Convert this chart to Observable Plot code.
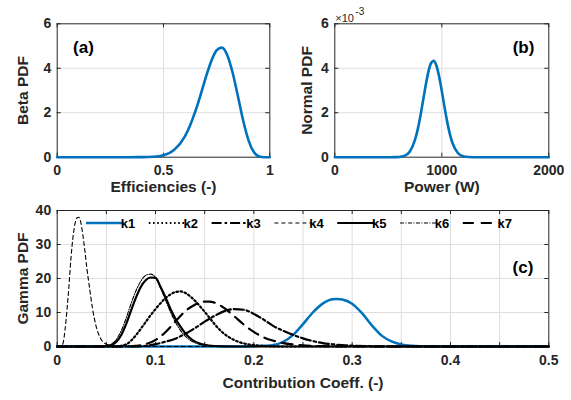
<!DOCTYPE html>
<html>
<head>
<meta charset="utf-8">
<script src="https://cdn.jsdelivr.net/npm/d3@7"></script>
<script src="https://cdn.jsdelivr.net/npm/@observablehq/plot@0.6"></script>
<style>
  body { margin: 0; background: #fff; }
  #root { position: relative; width: 571px; height: 400px; overflow: hidden; background: #fff; }
  .panel { position: absolute; }
</style>
</head>
<body>
<div id="root"></div>
<script>
// ---------- Panel (a): Beta PDF vs efficiency ----------
const effX    = [0, 0.1, 0.2, 0.3, 0.35, 0.4, 0.45, 0.5, 0.55, 0.6, 0.625, 0.65, 0.675, 0.7, 0.725, 0.75, 0.775, 0.8, 0.825, 0.85, 0.875, 0.9, 0.925, 0.95, 0.975, 1];
const betaPdf = [0, 0, 0, 0, 0.0005, 0.003, 0.02, 0.09, 0.33, 0.93, 1.43, 2.07, 2.82, 3.62, 4.33, 4.81, 4.93, 4.59, 3.81, 2.74, 1.64, 0.76, 0.23, 0.035, 0.001, 0];

// ---------- Panel (b): Normal PDF vs power (values in units of 1e-3) ----------
const powerX    = [0, 500, 550, 600, 650, 700, 750, 775, 800, 825, 850, 875, 900, 925, 950, 975, 1000, 1025, 1050, 1075, 1100, 1150, 1200, 1250, 1300, 1350, 2000];
const normalPdf = [0, 0.0001, 0.0013, 0.010, 0.058, 0.249, 0.787, 1.253, 1.854, 2.547, 3.249, 3.85, 4.238, 4.333, 4.115, 3.63, 2.974, 2.263, 1.600, 1.050, 0.640, 0.191, 0.042, 0.007, 0.001, 0, 0];

// ---------- Panel (c): Gamma PDFs of contribution coefficients ----------
const seriesNames = ["k1", "k2", "k3", "k4", "k5", "k6", "k7"];
const k1X = [0, 0.18, 0.2, 0.21, 0.22, 0.23, 0.24, 0.25, 0.26, 0.27, 0.28, 0.285, 0.29, 0.3, 0.31, 0.32, 0.33, 0.34, 0.35, 0.36, 0.37, 0.39, 0.5];
const k1Y = [0, 0, 0.05, 0.2, 0.45, 1.4, 3.4, 6.6, 10.0, 12.6, 13.9, 14.0, 13.8, 12.6, 9.8, 6.2, 3.2, 1.5, 0.6, 0.2, 0.07, 0, 0];
const k2X = [0, 0.06, 0.065, 0.07, 0.075, 0.08, 0.085, 0.09, 0.095, 0.1, 0.105, 0.11, 0.115, 0.12, 0.125, 0.13, 0.135, 0.14, 0.145, 0.15, 0.155, 0.16, 0.165, 0.17, 0.175, 0.18, 0.185, 0.19, 0.2, 0.21, 0.23, 0.5];
const k2Y = [0, 0, 0.2, 0.6, 1.7, 3.3, 5.2, 7.2, 9.2, 11.0, 12.7, 14.2, 15.3, 16.0, 16.2, 15.8, 14.8, 13.5, 11.9, 10.2, 8.4, 6.6, 5.0, 3.7, 2.7, 1.9, 1.3, 0.9, 0.4, 0.15, 0, 0];
const k3X = [0, 0.08, 0.09, 0.1, 0.11, 0.12, 0.13, 0.14, 0.15, 0.16, 0.17, 0.18, 0.19, 0.2, 0.21, 0.22, 0.23, 0.24, 0.25, 0.26, 0.27, 0.28, 0.29, 0.3, 0.32, 0.35, 0.5];
const k3Y = [0, 0, 0.2, 0.7, 1.4, 2.3, 3.7, 5.4, 7.3, 9.0, 10.4, 11.0, 10.8, 9.6, 7.9, 6.0, 4.6, 3.4, 2.4, 1.6, 1.0, 0.65, 0.4, 0.25, 0.07, 0, 0];
const k4X = [0, 0.004, 0.006, 0.008, 0.01, 0.012, 0.014, 0.016, 0.018, 0.02, 0.022, 0.024, 0.026, 0.028, 0.03, 0.033, 0.036, 0.04, 0.044, 0.048, 0.055, 0.065, 0.08, 0.5];
const k4Y = [0, 0, 1, 5, 11, 18, 26, 32, 36, 37.8, 38, 36.5, 33, 28.5, 23.5, 17, 11, 5.5, 2.4, 1.0, 0.3, 0.05, 0, 0];
const k5X = [0, 0.04, 0.05, 0.055, 0.06, 0.065, 0.07, 0.075, 0.08, 0.085, 0.09, 0.095, 0.1, 0.105, 0.11, 0.115, 0.12, 0.125, 0.13, 0.135, 0.14, 0.145, 0.15, 0.16, 0.17, 0.19, 0.5];
const k5Y = [0, 0, 0.1, 0.4, 1.3, 3.3, 6.5, 10.5, 14.3, 17.5, 19.5, 20.3, 20.2, 17.6, 14.6, 11.2, 8.3, 6.0, 4.0, 2.5, 1.5, 0.9, 0.5, 0.15, 0.05, 0, 0];
const k6X = [0, 0.04, 0.05, 0.055, 0.06, 0.065, 0.07, 0.075, 0.08, 0.085, 0.09, 0.095, 0.1, 0.105, 0.11, 0.115, 0.12, 0.125, 0.13, 0.135, 0.14, 0.145, 0.15, 0.16, 0.17, 0.19, 0.5];
const k6Y = [0, 0, 0.2, 0.7, 2.0, 4.5, 8.2, 12.5, 16.3, 19.2, 20.9, 21.3, 20.3, 17.3, 13.8, 10.3, 7.3, 4.9, 3.1, 1.9, 1.1, 0.6, 0.35, 0.1, 0.03, 0, 0];
const k7X = [0, 0.07, 0.08, 0.09, 0.1, 0.11, 0.12, 0.13, 0.14, 0.15, 0.155, 0.16, 0.17, 0.18, 0.19, 0.2, 0.21, 0.22, 0.23, 0.24, 0.25, 0.27, 0.3, 0.5];
const k7Y = [0, 0, 0.2, 0.7, 1.9, 4.2, 7.3, 10.3, 12.3, 13.2, 13.2, 12.9, 11.3, 8.9, 6.4, 4.3, 2.7, 1.7, 1.0, 0.6, 0.35, 0.1, 0, 0];

// tick values
const aXTicks = [0, 0.5, 1], aYTicks = [0, 2, 4, 6];
const bXTicks = [0, 1000, 2000], bYTicks = [0, 2, 4, 6];
const cXTicks = [0, 0.05, 0.1, 0.15, 0.2, 0.25, 0.3, 0.35, 0.4, 0.45, 0.5];
const cXLabels = [0, 0.1, 0.2, 0.3, 0.4, 0.5];
const cYTicks = [0, 10, 20, 30, 40];

// ---------- styling ----------
const FONT = '"Liberation Sans", Arial, Helvetica, sans-serif';
const INK = "#262626";
const GRID = "#dedede";
const BLUE = "#0072BD";

const zip = (xs, ys) => xs.map((x, i) => ({x, y: ys[i]}));

const cStyles = [
  {stroke: BLUE, strokeWidth: 2.5, dash: null},
  {stroke: "#000", strokeWidth: 2.2, dash: "1.6,2.6"},
  {stroke: "#000", strokeWidth: 2.2, dash: "10,3,2.5,3"},
  {stroke: "#000", strokeWidth: 1.1, dash: "4,3"},
  {stroke: "#000", strokeWidth: 2.2, dash: null},
  {stroke: "#000", strokeWidth: 1.1, dash: "4,1.5,1,1.5"},
  {stroke: "#000", strokeWidth: 2.2, dash: "11,7"}
];
const cData = [zip(k1X, k1Y), zip(k2X, k2Y), zip(k3X, k3Y), zip(k4X, k4Y), zip(k5X, k5Y), zip(k6X, k6Y), zip(k7X, k7Y)];

function panel(cfg) {
  const W = cfg.width - cfg.ml - cfg.mr;
  const H = cfg.height - cfg.mt - cfg.mb;
  const tickOpts = {stroke: INK, strokeWidth: 1};
  const marks = [
    Plot.gridX(cfg.xGrid, {stroke: GRID, strokeOpacity: 1, strokeWidth: 1}),
    Plot.gridY(cfg.yGrid, {stroke: GRID, strokeOpacity: 1, strokeWidth: 1}),
    Plot.frame({stroke: INK, strokeWidth: 1}),
    Plot.tickX(cfg.xTicks, {x: d => d, insetTop: H - 4, ...tickOpts}),
    Plot.tickX(cfg.xTicks, {x: d => d, insetBottom: H - 4, ...tickOpts}),
    Plot.tickY(cfg.yTicks, {y: d => d, insetRight: W - 4, ...tickOpts}),
    Plot.tickY(cfg.yTicks, {y: d => d, insetLeft: W - 4, ...tickOpts}),
    Plot.axisX(cfg.xLabels, {tickSize: 0, tickPadding: cfg.xPad, tickFormat: d => String(d), label: null, fontSize: 14, fill: INK}),
    Plot.axisY(cfg.yTicks, {tickSize: 0, tickPadding: 6, tickFormat: d => String(d), label: null, fontSize: 14, fill: INK}),
    ...cfg.series.map(s => Plot.line(s.data, {
      x: "x", y: "y", stroke: s.stroke, strokeWidth: s.strokeWidth,
      strokeDasharray: s.dash || undefined, curve: "monotone-x", strokeLinejoin: "round"
    })),
    Plot.text([cfg.xTitle], {text: d => d, frameAnchor: "bottom", dy: cfg.xTitleDy, lineAnchor: "middle", fontSize: 15.5, fontWeight: "bold", fill: INK}),
    Plot.text([cfg.yTitle], {text: d => d, frameAnchor: "left", dx: cfg.yTitleDx, rotate: -90, textAnchor: "middle", lineAnchor: "middle", fontSize: 15.5, fontWeight: "bold", fill: INK}),
    Plot.text([cfg.tag], {text: d => d, frameAnchor: cfg.tagAnchor, dx: cfg.tagDx, dy: cfg.tagDy, textAnchor: "middle", lineAnchor: "middle", fontSize: 17, fontWeight: "bold", fill: "#000"}),
    ...(cfg.extra || [])
  ];
  const svg = Plot.plot({
    width: cfg.width, height: cfg.height,
    marginLeft: cfg.ml, marginRight: cfg.mr, marginTop: cfg.mt, marginBottom: cfg.mb,
    x: {domain: cfg.xDomain, axis: null},
    y: {domain: cfg.yDomain, axis: null},
    style: {fontFamily: FONT, fontWeight: "bold", fontSize: "14px", color: INK, background: "transparent", overflow: "visible"},
    marks
  });
  svg.classList.add("panel");
  svg.style.left = cfg.left + "px";
  svg.style.top = cfg.top + "px";
  return svg;
}

const root = document.getElementById("root");

// (a)
root.appendChild(panel({
  left: 0, top: 0, width: 285, height: 195, ml: 56.7, mr: 15.7, mt: 23.3, mb: 38.3,
  xDomain: [0, 1], yDomain: [0, 6], xPad: 7.5,
  xGrid: [0.5], yGrid: [2, 4], xTicks: aXTicks, xLabels: aXTicks, yTicks: aYTicks,
  series: [{data: zip(effX, betaPdf), stroke: BLUE, strokeWidth: 2.6}],
  xTitle: "Efficiencies (-)", xTitleDy: 29.5, yTitle: "Beta PDF", yTitleDx: -34,
  tag: "(a)", tagAnchor: "top-left", tagDx: 26.3, tagDy: 23.7
}));

// (b)
root.appendChild(panel({
  left: 285, top: 0, width: 286, height: 195, ml: 49.3, mr: 22.7, mt: 23.3, mb: 38.3,
  xDomain: [0, 2000], yDomain: [0, 6], xPad: 7.5,
  xGrid: [1000], yGrid: [2, 4], xTicks: bXTicks, xLabels: bXTicks, yTicks: bYTicks,
  series: [{data: zip(powerX, normalPdf), stroke: BLUE, strokeWidth: 2.6}],
  xTitle: "Power (W)", xTitleDy: 29.5, yTitle: "Normal PDF", yTitleDx: -27.6,
  tag: "(b)", tagAnchor: "top-right", tagDx: -25.3, tagDy: 24.2,
  extra: [
    Plot.text(["×10"], {text: d => d, frameAnchor: "top-left", dx: 0.5, dy: -2, lineAnchor: "bottom", textAnchor: "start", fontSize: 11, fontWeight: "normal", fill: INK}),
    Plot.text(["-3"], {text: d => d, frameAnchor: "top-left", dx: 20.5, dy: -9, lineAnchor: "bottom", textAnchor: "start", fontSize: 10, fontWeight: "normal", fill: INK})
  ]
}));

// (c)
const svgC = panel({
  left: 0, top: 195, width: 571, height: 205, ml: 56.7, mr: 22.7, mt: 15, mb: 54,
  xDomain: [0, 0.5], yDomain: [0, 40], xPad: 9,
  xGrid: cXTicks.slice(1, -1), yGrid: [10, 20, 30], xTicks: cXTicks, xLabels: cXLabels, yTicks: cYTicks,
  series: cData.map((d, i) => ({data: d, ...cStyles[i]})),
  xTitle: "Contribution Coeff. (-)", xTitleDy: 37, yTitle: "Gamma PDF", yTitleDx: -34,
  tag: "(c)", tagAnchor: "top-right", tagDx: -25.8, tagDy: 57.5
});
root.appendChild(svgC);

// legend for (c): horizontal row inside the top of the axes
const lg = d3.select(svgC).append("g").attr("font-family", FONT).attr("font-weight", "bold").attr("font-size", 13);
const legY = 28, legStart = 86, legStep = 62.8, legLine = 38;
seriesNames.forEach((name, i) => {
  const s = cStyles[i];
  const x0 = legStart + i * legStep;
  lg.append("line").attr("x1", x0).attr("x2", x0 + legLine).attr("y1", legY).attr("y2", legY)
    .attr("stroke", s.stroke).attr("stroke-width", s.strokeWidth)
    .attr("stroke-dasharray", s.dash || null);
  lg.append("text").attr("x", x0 + legLine + 4).attr("y", legY).attr("dy", "0.35em")
    .attr("fill", "#000").text(name);
});
</script>
</body>
</html>
